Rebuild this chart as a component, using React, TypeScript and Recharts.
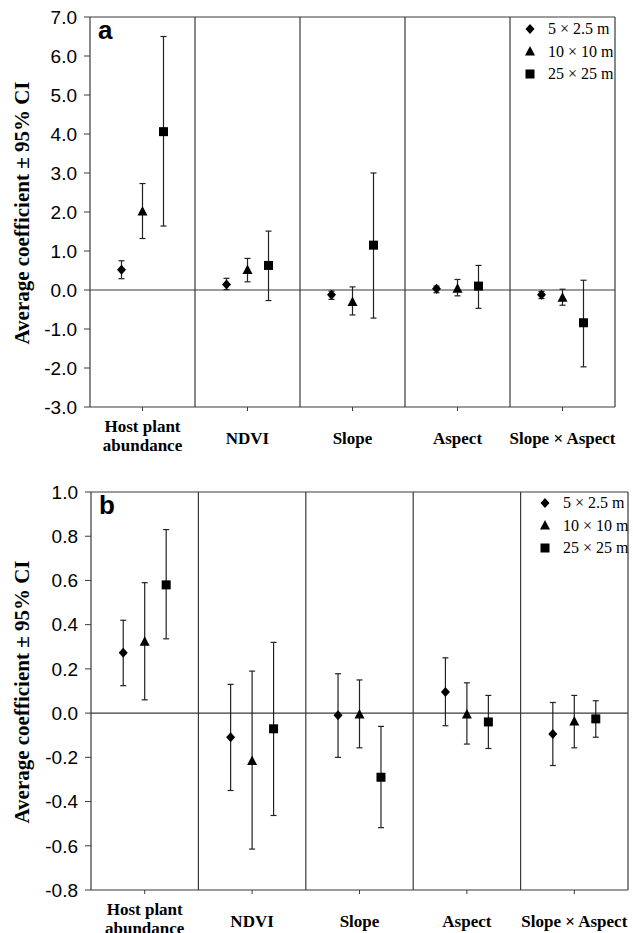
import React from "react";
import {
  ComposedChart,
  ErrorBar,
  Legend,
  ReferenceLine,
  Scatter,
  XAxis,
  YAxis,
} from "recharts";

// categories (x) and scales (series)
const categoryLabels = [
  ["Host plant", "abundance"],
  ["NDVI"],
  ["Slope"],
  ["Aspect"],
  ["Slope × Aspect"],
];
const seriesNames = ["5 × 2.5 m", "10 × 10 m", "25 × 25 m"];

// panel a: mean, lower and upper 95% CI
const a5Mean = [0.52, 0.14, -0.12, 0.03, -0.12];
const a5Low = [0.29, 0.01, -0.24, -0.07, -0.22];
const a5High = [0.75, 0.3, -0.03, 0.1, -0.04];
const a10Mean = [2.0, 0.5, -0.32, 0.02, -0.21];
const a10Low = [1.32, 0.21, -0.64, -0.15, -0.39];
const a10High = [2.73, 0.81, 0.08, 0.27, 0.02];
const a25Mean = [4.06, 0.63, 1.15, 0.1, -0.84];
const a25Low = [1.64, -0.27, -0.72, -0.47, -1.97];
const a25High = [6.5, 1.51, 3.0, 0.63, 0.25];

// panel b
const b5Mean = [0.273, -0.109, -0.01, 0.095, -0.094];
const b5Low = [0.124, -0.35, -0.2, -0.057, -0.237];
const b5High = [0.42, 0.13, 0.178, 0.25, 0.048];
const b10Mean = [0.32, -0.219, -0.008, -0.008, -0.04];
const b10Low = [0.06, -0.615, -0.157, -0.14, -0.157];
const b10High = [0.59, 0.19, 0.15, 0.137, 0.08];
const b25Mean = [0.58, -0.071, -0.29, -0.04, -0.026];
const b25Low = [0.336, -0.463, -0.518, -0.16, -0.109];
const b25High = [0.83, 0.32, -0.06, 0.08, 0.056];

const aTicks = [-3, -2, -1, 0, 1, 2, 3, 4, 5, 6, 7];
const bTicks = [-0.8, -0.6, -0.4, -0.2, 0, 0.2, 0.4, 0.6, 0.8, 1.0];

const categoryTicks = [0.5, 1.5, 2.5, 3.5, 4.5];
const dividers = [1, 2, 3, 4, 5];
const SERIES_OFFSET = 0.2;

const LINE = "#3a3a3a";
const SERIF = "'Liberation Serif', 'Times New Roman', serif";
const SANS = "'Liberation Sans', Arial, sans-serif";

function buildPoints(mean: number[], low: number[], high: number[], s: number) {
  return mean.map((m, i) => ({
    x: i + 0.5 + (s - 1) * SERIES_OFFSET,
    y: m,
    err: [m - low[i], high[i] - m],
  }));
}

type Shape = "diamond" | "triangle" | "square";
const shapes: Shape[] = ["diamond", "triangle", "square"];

function Marker({ cx, cy, kind }: { cx: number; cy: number; kind: Shape }) {
  if (kind === "diamond") {
    return (
      <path
        d={`M${cx},${cy - 5} L${cx + 4.5},${cy} L${cx},${cy + 5} L${cx - 4.5},${cy} Z`}
        fill="#000"
      />
    );
  }
  if (kind === "triangle") {
    return (
      <path
        d={`M${cx},${cy - 6} L${cx + 5},${cy + 3.5} L${cx - 5},${cy + 3.5} Z`}
        fill="#000"
      />
    );
  }
  return <rect x={cx - 4.5} y={cy - 4.5} width={9} height={9} fill="#000" />;
}

function CategoryTick(props: any) {
  const { x, y, payload } = props;
  const idx = Math.round(payload.value - 0.5);
  const lines = categoryLabels[idx] || [];
  const style = { fontFamily: SERIF, fontWeight: 700, fontSize: 17, fill: "#000" };
  if (lines.length === 1) {
    return (
      <text x={x} y={y + 31} textAnchor="middle" style={style}>
        {lines[0]}
      </text>
    );
  }
  return (
    <g>
      {lines.map((l, i) => (
        <text key={i} x={x} y={y + 19 + i * 19} textAnchor="middle" style={style}>
          {l}
        </text>
      ))}
    </g>
  );
}

function YTitle(props: any) {
  const { viewBox } = props;
  const x = viewBox.x + 22;
  const y = viewBox.y + viewBox.height / 2 + 1;
  return (
    <text
      x={x}
      y={y}
      transform={`rotate(-90, ${x}, ${y})`}
      textAnchor="middle"
      dominantBaseline="central"
      style={{ fontFamily: SERIF, fontWeight: 700, fontSize: 21, fill: "#000" }}
    >
      Average coefficient ± 95% CI
    </text>
  );
}

function LegendBox({ textIndent }: { textIndent: number }) {
  return (
    <div style={{ fontFamily: SERIF, fontSize: 16, color: "#000", whiteSpace: "nowrap" }}>
      {seriesNames.map((name, i) => (
        <div key={name} style={{ display: "flex", alignItems: "center", height: 22.5 }}>
          <svg width={16} height={16} style={{ marginRight: textIndent, flex: "none" }}>
            <Marker cx={8} cy={8} kind={shapes[i]} />
          </svg>
          <span>{name}</span>
        </div>
      ))}
    </div>
  );
}

type PanelProps = {
  top: number;
  height: number;
  margin: { top: number; right: number; bottom: number; left: number };
  yWidth: number;
  domain: [number, number];
  ticks: number[];
  series: { mean: number[]; low: number[]; high: number[] }[];
  letter: string;
  legendPos: { left: number; top: number };
  legendIndent: number;
};

function Panel(p: PanelProps) {
  const data = p.series.map((s, i) => buildPoints(s.mean, s.low, s.high, i));
  return (
    <div style={{ position: "absolute", left: 0, top: p.top, width: 633, height: p.height }}>
      <ComposedChart width={633} height={p.height} margin={p.margin}>
        <XAxis
          type="number"
          dataKey="x"
          domain={[0, 5]}
          ticks={categoryTicks}
          interval={0}
          height={40}
          tick={<CategoryTick />}
          tickSize={4}
          tickMargin={2}
          axisLine={{ stroke: LINE, strokeWidth: 1.2 }}
          tickLine={{ stroke: LINE }}
        />
        <YAxis
          type="number"
          dataKey="y"
          domain={p.domain}
          ticks={p.ticks}
          interval={0}
          width={p.yWidth}
          tickFormatter={(v: number) => v.toFixed(1)}
          tick={{ fontFamily: SANS, fontSize: 19, fill: "#000" }}
          tickSize={6}
          tickMargin={7}
          axisLine={{ stroke: LINE, strokeWidth: 1.2 }}
          tickLine={{ stroke: LINE }}
          label={<YTitle />}
        />
        {dividers.map((d) => (
          <ReferenceLine key={d} x={d} stroke={LINE} strokeWidth={1.2} />
        ))}
        <ReferenceLine y={p.domain[1]} stroke={LINE} strokeWidth={1.2} />
        <ReferenceLine y={0} stroke={LINE} strokeWidth={1.2} />
        {data.map((pts, i) => (
          <Scatter
            key={seriesNames[i]}
            name={seriesNames[i]}
            data={pts}
            isAnimationActive={false}
            shape={(sp: any) => <Marker cx={sp.cx} cy={sp.cy} kind={shapes[i]} />}
          >
            <ErrorBar
              dataKey="err"
              direction="y"
              width={3}
              stroke="#222"
              strokeWidth={1.2}
              isAnimationActive={false}
            />
          </Scatter>
        ))}
        <Legend
          layout="vertical"
          align="center"
          verticalAlign="middle"
          wrapperStyle={{ left: p.legendPos.left, top: p.legendPos.top, width: "auto" }}
          content={() => <LegendBox textIndent={p.legendIndent} />}
        />
      </ComposedChart>
      <div
        style={{
          position: "absolute",
          left: p.margin.left + p.yWidth + 8,
          top: p.margin.top + 0,
          fontFamily: SANS,
          fontWeight: 700,
          fontSize: 26,
          lineHeight: "26px",
          pointerEvents: "none",
        }}
      >
        {p.letter}
      </div>
    </div>
  );
}

export default function App() {
  return (
    <div style={{ position: "absolute", left: 0, top: 0, width: 633, height: 933, background: "#fff" }}>
      <Panel
        top={0}
        height={462}
        margin={{ top: 17, right: 18, bottom: 15, left: 0 }}
        yWidth={90}
        domain={[-3, 7]}
        ticks={aTicks}
        series={[
          { mean: a5Mean, low: a5Low, high: a5High },
          { mean: a10Mean, low: a10Low, high: a10High },
          { mean: a25Mean, low: a25Low, high: a25High },
        ]}
        letter="a"
        legendPos={{ left: 522, top: 18 }}
        legendIndent={10}
      />
      <Panel
        top={450}
        height={483}
        margin={{ top: 42, right: 5, bottom: 3, left: 0 }}
        yWidth={91}
        domain={[-0.8, 1.0]}
        ticks={bTicks}
        series={[
          { mean: b5Mean, low: b5Low, high: b5High },
          { mean: b10Mean, low: b10Low, high: b10High },
          { mean: b25Mean, low: b25Low, high: b25High },
        ]}
        letter="b"
        legendPos={{ left: 537, top: 42 }}
        legendIndent={10}
      />
    </div>
  );
}
